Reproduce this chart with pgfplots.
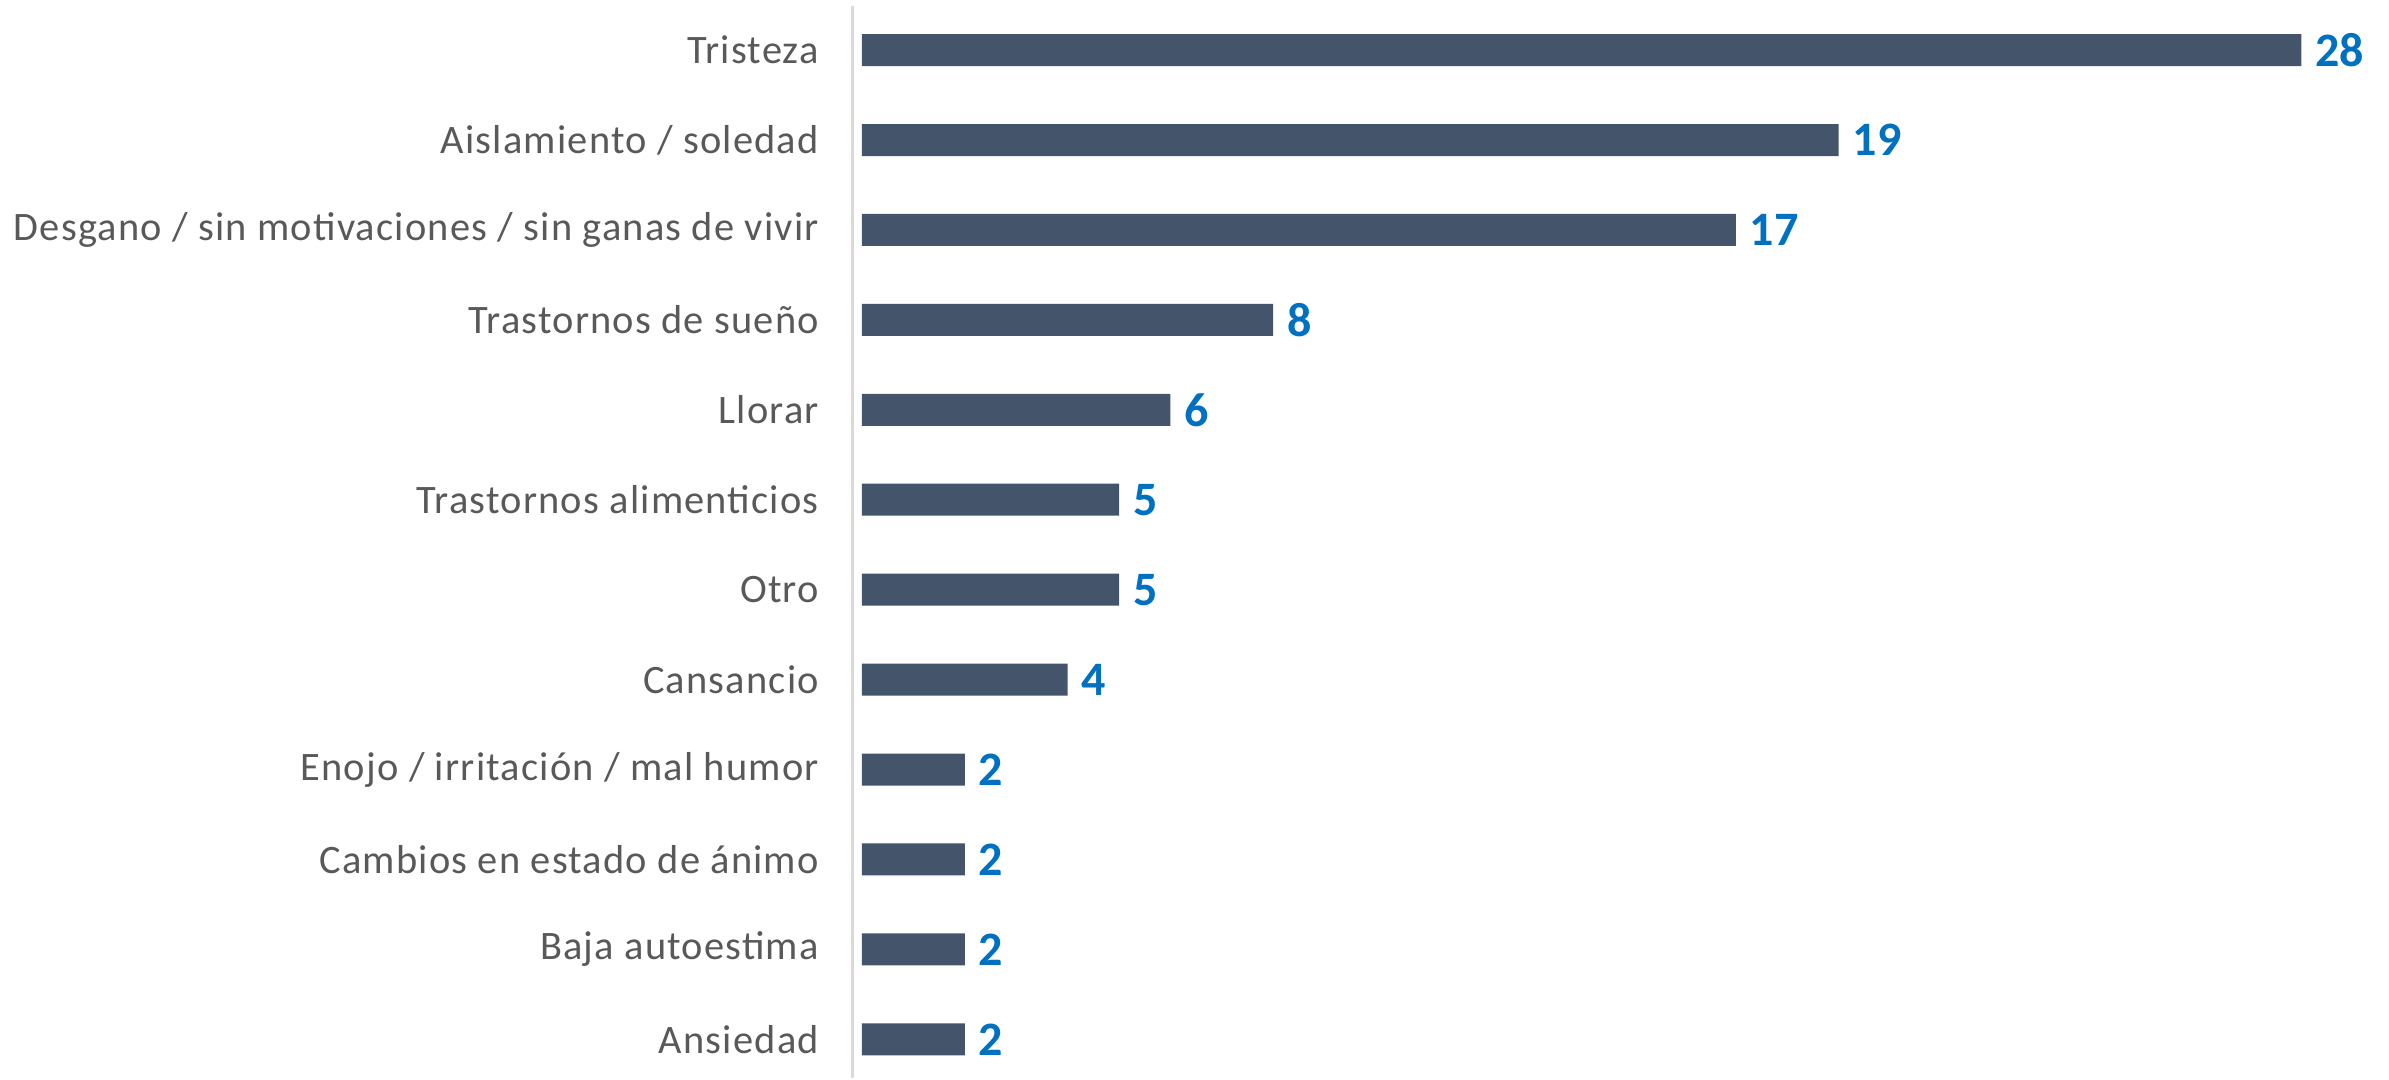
\documentclass[border=0pt]{standalone}
\usepackage{pgfplots}
\pgfplotsset{compat=1.18}
\usepackage{fontspec}
\setmainfont{Carlito}
\newfontfamily\labfont[LetterSpace=3]{Carlito}
\definecolor{barc}{HTML}{44546A}
\definecolor{valc}{HTML}{0070C0}
\definecolor{labc}{HTML}{595959}
\definecolor{axc}{HTML}{D9D9D9}
\begin{document}
\begin{tikzpicture}
\begin{axis}[
  scale only axis,
  width=368.5pt, height=268pt,
  xbar, bar width=8pt,
  xmin=-0.175, xmax=28.5,
  ymin=-0.43, ymax=11.49,
  axis x line=none,
  axis y line*=left,
  y axis line style={draw=axc, line width=0.75pt, -},
  ytick={0,...,11},
  yticklabels={Ansiedad, Baja autoestima, Cambios en estado de ánimo, Enojo / irritación / mal humor, Cansancio, Otro, Trastornos alimenticios, Llorar, Trastornos de sueño, Desgano / sin motivaciones / sin ganas de vivir, Aislamiento / soledad, Tristeza},
  major tick length=0pt,
  yticklabel style={font=\labfont\fontsize{10.1pt}{12pt}\selectfont, text=labc, xshift=-5pt},
  /pgf/number format/assume math mode=true,
  nodes near coords,
  nodes near coords style={font=\fontsize{12pt}{14pt}\selectfont\bfseries, text=valc, anchor=west},
  clip=false,
]
\addplot[fill=barc, draw=none] coordinates {
(2,0) (2,1) (2,2) (2,3) (4,4) (5,5) (5,6) (6,7) (8,8) (17,9) (19,10) (28,11)
};
\end{axis}
\path[use as bounding box] (current axis.south west) ++(-213.25pt,0pt) rectangle ++(597.25pt,269.5pt);
\end{tikzpicture}
\end{document}
